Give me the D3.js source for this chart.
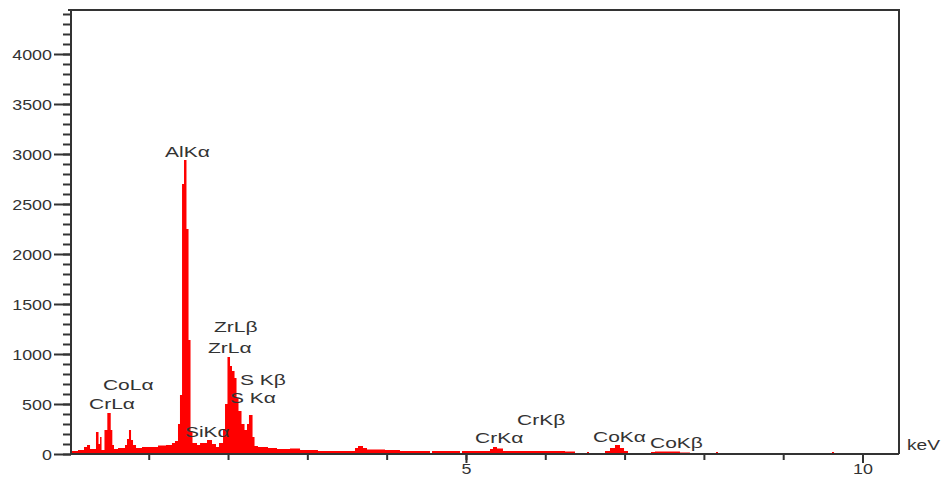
<!DOCTYPE html>
<html><head><meta charset="utf-8">
<script src="https://cdn.jsdelivr.net/npm/d3@7"></script>
<style>
body{margin:0;background:#fff}
svg{display:block}
text{font-family:"Liberation Sans",Arial,sans-serif;fill:#333}
</style>
</head><body>
<svg width="941" height="477"></svg>
<script>
// ---- data ----
const xDomain = [0.02, 10.46];           // keV
const yDomain = [0, 4440];               // counts
const xTicks = [1,2,3,4,5,6,7,8,9,10];
const xTickLabels = [5, 10];
const yMajorTicks = [0,500,1000,1500,2000,2500,3000,3500,4000];
const yMinorTicks = d3.range(0, 4401, 100);

// spectrum: bin start energy (keV) and counts in that bin
const binStart = [0.02,0.108,0.184,0.222,0.26,0.335,0.367,0.386,0.405,0.442,0.478,0.521,0.541,0.562,0.613,0.701,0.726,0.751,0.777,0.802,0.84,0.915,1.016,1.117,1.218,1.293,1.331,1.369,1.394,1.42,1.445,1.476,1.502,1.527,1.552,1.609,1.647,1.735,1.798,1.848,1.886,1.937,1.962,1.993,2.025,2.05,2.082,2.107,2.132,2.17,2.208,2.239,2.264,2.309,2.334,2.378,2.504,2.617,2.781,2.908,3.134,3.601,3.639,3.702,3.752,3.979,4.168,4.547,4.572,4.925,4.95,5.303,5.341,5.391,5.467,6.249,6.375,6.526,6.551,6.753,6.816,6.879,6.942,6.993,7.043,7.333,7.383,7.698,7.824,8.153,8.178,9.615,9.641];
const counts   = [30,40,70,90,50,220,100,170,40,240,410,240,90,50,60,90,150,240,140,90,60,70,70,85,90,110,130,300,590,2700,2940,2250,1140,230,110,90,110,140,100,70,110,250,500,970,880,830,760,560,430,300,240,300,390,170,80,70,60,50,55,40,30,60,80,60,45,40,30,10,30,10,30,50,70,55,30,25,0,20,0,30,60,90,60,30,0,20,25,15,0,20,0,20,0];

// peak labels: text, left energy (keV), baseline count
const peakNames = ["AlKα","ZrLβ","ZrLα","S Kβ","S Kα","SiKα","CoLα","CrLα","CrKα","CrKβ","CoKα","CoKβ"];
const peakE     = [1.205,1.823,1.747,2.151,2.025,1.457,0.423,0.247,5.114,5.644,6.602,7.321];
const peakC     = [2970,1220,1010,690,510,170,640,450,110,290,120,60];
const unitLabel = "keV";

// ---- drawing ----
const svg = d3.select("svg");
const x = d3.scaleLinear().domain(xDomain).range([71, 899]);
const y = d3.scaleLinear().domain(yDomain).range([454, 10]);

const pts = binStart.map((e,i)=>[e, counts[i]]);
pts.push([xDomain[1], counts[counts.length-1]]);
const area = d3.area().x(d=>x(d[0])).y0(y(0)).y1(d=>y(d[1])).curve(d3.curveStepAfter);
svg.append("path").datum(pts).attr("d", area).attr("fill", "#ff0000");

const axisColor = "#333";
// y axis minor
const gyMinor = svg.append("g").attr("transform", `translate(${x(xDomain[0])},0)`)
  .call(d3.axisLeft(y).tickValues(yMinorTicks).tickSize(8).tickFormat(""));
// y axis major
const gy = svg.append("g").attr("transform", `translate(${x(xDomain[0])},0)`)
  .call(d3.axisLeft(y).tickValues(yMajorTicks).tickSize(17).tickPadding(2).tickFormat(d3.format("d")));
gy.selectAll("text").attr("x", null).attr("dy", null)
  .attr("transform", "translate(-19,5) scale(1.28,1)")
  .style("font-size", "14px").style("fill", "#333");

// x axis
const gxMinor = svg.append("g").attr("transform", `translate(0,${y(0)})`)
  .call(d3.axisBottom(x).tickValues(xTicks).tickSize(6).tickFormat(""));
const gx = svg.append("g").attr("transform", `translate(0,${y(0)})`)
  .call(d3.axisBottom(x).tickValues(xTickLabels).tickSize(9).tickPadding(2).tickFormat(d3.format("d")));
gx.selectAll("text").attr("y", null).attr("dy", null)
  .attr("transform", "translate(0,20) scale(1.28,1)")
  .style("font-size", "14px").style("fill", "#333");

svg.selectAll(".domain").attr("stroke", axisColor).attr("stroke-width", 2);
svg.selectAll(".tick line").attr("stroke", axisColor).attr("stroke-width", 2);
gxMinor.select(".domain").remove();
gx.select(".domain").attr("d", `M${x.range()[0]},0H${x.range()[1]}`);
gyMinor.select(".domain").remove();
gy.select(".domain").attr("d", `M0,${y.range()[0]}V${y.range()[1]}`);

// frame top and right
svg.append("path")
  .attr("d", `M${x.range()[0]-3},${y.range()[1]}H${x.range()[1]}V${y.range()[0]}`)
  .attr("fill", "none").attr("stroke", axisColor).attr("stroke-width", 2);

// peak labels
svg.append("g").selectAll("text").data(peakNames).join("text")
  .attr("transform", (d,i)=>`translate(${x(peakE[i])},${y(peakC[i])}) scale(1.5,1)`)
  .style("font-size", "14px")
  .text(d=>d);

// unit label
svg.append("text")
  .attr("transform", `translate(${x.range()[1]+8},${y(0)-4}) scale(1.37,1)`)
  .style("font-size", "14px").text(unitLabel);
</script>
</body></html>
